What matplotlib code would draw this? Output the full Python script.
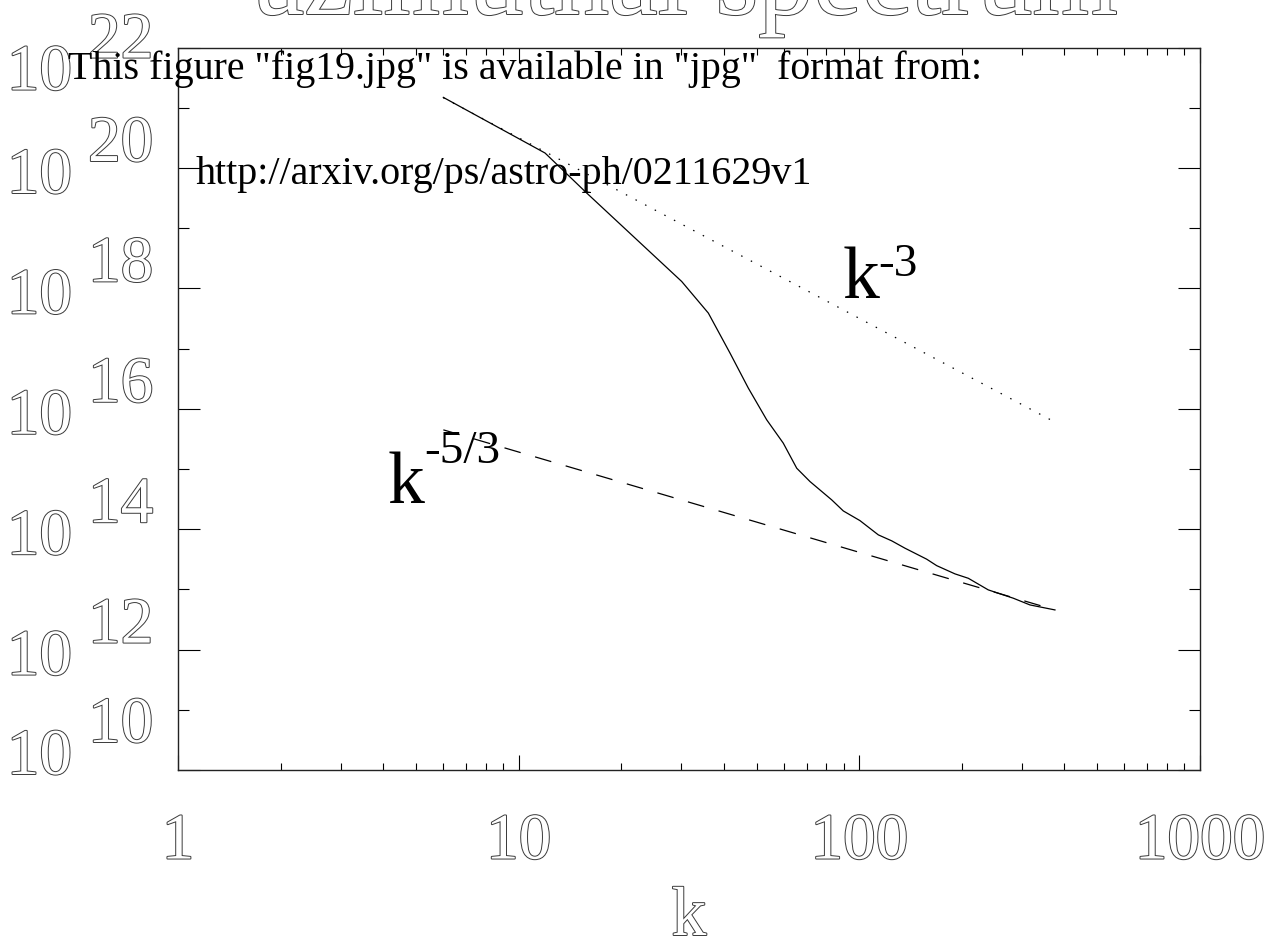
import numpy as np
import matplotlib
matplotlib.use("Agg")
import matplotlib.pyplot as plt
import matplotlib.patheffects as pe
from matplotlib.transforms import offset_copy
from matplotlib.ticker import FixedLocator, NullFormatter

# ---- data ----
k_vals = [6.01, 11.95, 15.84, 30.1, 36.04, 41.73, 47.22, 53.47, 59.8, 65.5,
          71.66, 82.97, 89.74, 100.4, 113.7, 124.5, 136.1, 157.6, 168.7,
          190.9, 208.9, 239.0, 283.1, 316.9, 375.2]
spectrum = [1.489e21, 1.774e20, 3.837e19, 1.303e18, 3.89e17, 8.41e16,
            2.208e16, 6.56e15, 2.69e15, 1.03e15, 6.18e14, 3.07e14, 2.01e14,
            1.39e14, 8.05e13, 6.40e13, 4.84e13, 3.18e13, 2.48e13, 1.81e13,
            1.53e13, 9.82e12, 7.14e12, 5.52e12, 4.56e12]
k_ref = [6.01, 375.2]
ref_k3 = [1.466e21, 6.01e15]      # k^-3 reference
ref_k53 = [4.47e15, 4.56e12]      # k^-5/3 reference
x_ticks = [1, 10, 100, 1000]
x_tick_labels = ["1", "10", "100", "1000"]
y_exponents = [10, 12, 14, 16, 18, 20, 22]
y_minor_exponents = [11, 13, 15, 17, 19, 21]
title_text = "azimuthal spectrum"
xlabel_text = "k"

W, H = 1288, 942
fig = plt.figure(figsize=(W / 100, H / 100), dpi=100)
ax = fig.add_axes([178 / W, (H - 770) / H, 1022 / W, 722.4 / H])
ax.set_xscale("log")
ax.set_yscale("log")
ax.set_xlim(1, 1000)
ax.set_ylim(1e10, 1e22)

lw = 0.9
ax.plot(k_vals, spectrum, color="black", lw=lw)
ax.plot(k_ref, ref_k3, color="black", lw=lw, linestyle=(0, (1.2, 7.5)))
ax.plot(k_ref, ref_k53, color="black", lw=lw, linestyle=(0, (13.5, 12)))

for s in ax.spines.values():
    s.set_linewidth(1.0)
    s.set_color("#222222")

outline = [pe.Stroke(linewidth=1.4, foreground="#3a3a3a"), pe.Normal()]
hfont = "Liberation Serif"

# x ticks
ax.xaxis.set_major_locator(FixedLocator(x_ticks))
ax.set_xticklabels(x_tick_labels)
ax.tick_params(axis="x", which="major", direction="in", length=11, width=0.8,
               top=True, bottom=True, pad=31, labelsize=47)
ax.tick_params(axis="x", which="minor", direction="in", length=5, width=0.8,
               top=True, bottom=True)
for lbl in ax.get_xticklabels():
    lbl.set_family(hfont)
    lbl.set_color("white")
    lbl.set_path_effects(outline)

# y ticks
ax.yaxis.set_major_locator(FixedLocator([10.0 ** e for e in y_exponents]))
ax.yaxis.set_minor_locator(FixedLocator([10.0 ** e for e in y_minor_exponents]))
ax.yaxis.set_major_formatter(NullFormatter())
ax.yaxis.set_minor_formatter(NullFormatter())
ax.tick_params(axis="y", which="major", direction="in", length=16, width=0.8,
               left=True, right=True)
ax.tick_params(axis="y", which="minor", direction="in", length=8, width=0.8,
               left=True, right=True)

ytr = ax.get_yaxis_transform()
# vertical shift of the end labels (the original pulls them inwards)
end_shift = {10: 21, 22: -17}
for e in y_exponents:
    sh = end_shift.get(e, 0)
    base_tr = offset_copy(ytr, fig=fig, x=0, y=-25 + sh, units="dots")
    exp_tr = offset_copy(ytr, fig=fig, x=0, y=7 + sh, units="dots")
    ax.text((72 - 178) / 1022, 10.0 ** e, "10", transform=base_tr,
            ha="right", va="baseline", fontsize=47, family=hfont,
            color="white", path_effects=outline, clip_on=False)
    ax.text((88 - 178) / 1022, 10.0 ** e, str(e), transform=exp_tr,
            ha="left", va="baseline", fontsize=47, family=hfont,
            color="white", path_effects=outline, clip_on=False)

# title and x label (outlined, like the original vector font)
fig.text(687 / W, 1 - 14 / H, title_text, ha="center", va="baseline",
         fontsize=79, family=hfont, color="white", path_effects=outline)
fig.text(689 / W, 1 - 935 / H, xlabel_text, ha="center", va="baseline",
         fontsize=50, family=hfont, color="white", path_effects=outline)

# power-law annotations
ax.text(89.5, 7.0e17, "k", fontsize=53, family=hfont, ha="left", va="baseline")
ax.text(114, 1.6e18, "-3", fontsize=34, family=hfont, ha="left", va="baseline")
ax.text(4.13, 2.74e14, "k", fontsize=53, family=hfont, ha="left", va="baseline")
ax.text(5.3, 1.25e15, "-5/3", fontsize=34, family=hfont, ha="left", va="baseline")

# overlay notice
fig.text(68 / W, 1 - 79 / H,
         'This figure "fig19.jpg" is available in "jpg"  format from:',
         fontsize=28.7, family=hfont, ha="left", va="baseline", color="black")
fig.text(196 / W, 1 - 184 / H, "http://arxiv.org/ps/astro-ph/0211629v1",
         fontsize=28.8, family=hfont, ha="left", va="baseline", color="black")

fig.savefig("out.png", dpi=100)
